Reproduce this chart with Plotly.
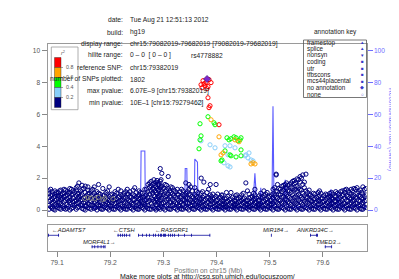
import plotly.graph_objects as go

# ---------------- data ----------------
X_RANGE = [79.082019, 79.682019]

ref_snp_name = "rs4778882"
ref_snp_pos = [79.382019]
ref_snp_logp = [8.217]

red_pos = [79.3744, 79.3801, 79.3782, 79.3707, 79.3895, 79.3857, 79.3763, 79.3838, 79.3726, 79.3820, 79.3838, 79.3876, 79.3857, 79.4045]
red_logp = [8.11, 7.99, 7.80, 7.86, 7.99, 8.18, 7.92, 7.74, 7.67, 7.61, 7.04, 6.54, 6.42, 5.35]

orange_pos = [79.3895, 79.4045, 79.4346, 79.4421, 79.4120, 79.4083, 79.4647, 79.4722, 79.4684]
orange_logp = [5.66, 4.59, 4.40, 4.28, 3.58, 3.46, 2.89, 2.89, 2.96]

green_pos = [79.3688, 79.3838, 79.3951, 79.3970, 79.3707, 79.3688, 79.3669, 79.4195, 79.4271, 79.4365,
             79.4440, 79.4459, 79.4402, 79.4327, 79.4233, 79.4459, 79.4158, 79.4271, 79.4365, 79.4459,
             79.4101, 79.4083, 79.4252]
green_logp = [5.41, 5.85, 5.47, 5.35, 4.65, 4.40, 3.84, 4.53, 4.47, 4.53,
              4.40, 4.53, 4.34, 4.59, 4.40, 3.77, 3.71, 3.40, 3.33, 3.40,
              3.14, 3.08, 3.46]

lblue_pos = [79.3688, 79.3707, 79.3876, 79.4158, 79.4252, 79.4346, 79.4214, 79.4534, 79.4590, 79.4553,
             79.4647, 79.4684, 79.4214, 79.4139, 79.4252, 79.4609, 79.3970]
lblue_logp = [6.73, 4.34, 4.09, 4.03, 4.03, 3.90, 3.46, 3.40, 3.27, 3.46,
              3.14, 3.08, 2.77, 2.96, 2.70, 3.58, 3.90]

gray_pos = [79.152, 79.158, 79.163, 79.171, 79.178, 79.186, 79.190, 79.205]
gray_logp = [0.72, 0.78, 0.75, 0.70, 0.80, 0.66, 0.74, 0.70]

navy_x = [79.085, 79.091, 79.096, 79.102, 79.107, 79.113, 79.119, 79.124, 79.130, 79.136,
          79.141, 79.147, 79.153, 79.158, 79.164, 79.170, 79.175, 79.181, 79.186, 79.192,
          79.198, 79.203, 79.209, 79.215, 79.220, 79.226, 79.232, 79.237, 79.243, 79.249,
          79.254, 79.260, 79.265, 79.271, 79.277, 79.282, 79.286, 79.290, 79.294, 79.297,
          79.303, 79.309, 79.314, 79.320, 79.326, 79.331, 79.337, 79.342, 79.348, 79.354,
          79.359, 79.365, 79.371, 79.376, 79.382, 79.388, 79.393, 79.399, 79.405, 79.410,
          79.416, 79.421, 79.427, 79.433, 79.438, 79.444, 79.450, 79.455, 79.461, 79.467,
          79.472, 79.478, 79.483, 79.489, 79.495, 79.500, 79.506, 79.512, 79.517, 79.523,
          79.529, 79.534, 79.540, 79.546, 79.551, 79.557, 79.562, 79.568, 79.574, 79.579,
          79.585, 79.591, 79.596, 79.602, 79.608, 79.613, 79.619, 79.624, 79.630, 79.636,
          79.641, 79.647, 79.653, 79.658, 79.664, 79.670, 79.675, 79.681]
navy_y = [[0.05, 0.3, 0.55, 0.8, 1.05, 1.2], [0.1, 0.45, 0.7, 0.95, 1.15, 0.2], [0.0, 0.35, 0.6, 0.85, 1.2, 1.0],
          [0.15, 0.5, 0.75, 1.1, 0.3, 0.9], [0.05, 0.4, 0.65, 0.95, 1.25, 0.8], [0.2, 0.55, 0.85, 1.05, 0.1, 1.3],
          [0.1, 0.35, 0.7, 0.95, 1.15], [0.0, 0.45, 0.8, 1.1, 1.35, 0.6], [0.15, 0.5, 0.75, 1.0, 1.2, 0.3],
          [0.05, 0.6, 0.9, 1.25, 1.4, 0.4], [0.2, 0.45, 0.7, 1.05, 1.7, 0.85], [0.1, 0.3, 0.65, 0.95, 1.3, 1.55],
          [0.0, 0.5, 0.8, 1.1, 1.5, 0.25], [0.15, 0.4, 0.7, 1.0, 1.25, 1.45], [0.05, 0.55, 0.9, 0.3, 1.2],
          [0.2, 0.45, 0.75, 1.05, 1.45, 0.1], [0.0, 0.35, 0.6, 0.9, 1.15], [0.1, 0.5, 0.8, 0.3, 1.0],
          [0.05, 0.4, 0.65, 0.9, 1.35], [0.15, 0.55, 0.75, 0.3, 1.1], [0.0, 0.35, 0.6, 0.85, 1.45],
          [0.1, 0.45, 0.7, 0.25, 1.0], [0.05, 0.4, 0.65, 0.9, 1.15], [0.15, 0.5, 0.8, 0.3, 1.3],
          [0.0, 0.35, 0.6, 0.95, 1.2], [0.1, 0.45, 0.75, 0.2, 1.05], [0.05, 0.4, 0.7, 1.0, 1.3],
          [0.15, 0.55, 0.85, 0.3, 1.15], [0.0, 0.35, 0.65, 0.95, 1.25], [0.1, 0.5, 0.8, 1.1, 0.25],
          [0.05, 0.4, 0.7, 0.95, 1.2], [0.15, 0.45, 0.8, 1.05, 0.3], [0.0, 0.35, 0.6, 0.9, 1.3],
          [0.1, 0.5, 0.8, 1.15, 1.6, 0.3], [0.05, 0.4, 0.75, 1.2, 1.5, 1.8], [0.15, 0.55, 0.9, 1.3, 1.65, 1.9],
          [0.0, 0.35, 0.7, 1.1, 1.45, 1.75], [0.1, 0.45, 0.8, 1.25, 1.55, 1.7], [0.05, 0.6, 0.95, 1.4, 1.8, 2.6],
          [0.2, 0.4, 0.75, 1.15, 1.5, 2.3], [0.0, 0.5, 0.85, 1.2, 1.6], [0.1, 0.35, 0.7, 1.0, 1.35, 2.1],
          [0.05, 0.45, 0.8, 1.1, 1.45], [0.15, 0.55, 0.9, 1.25, 0.3], [0.0, 0.4, 0.7, 1.0, 1.3],
          [0.1, 0.5, 0.8, 1.15, 0.25], [0.05, 0.35, 0.65, 0.95, 1.2], [0.15, 0.45, 0.75, 1.05, 1.7],
          [0.0, 0.4, 0.7, 1.0, 1.6, 1.3], [0.1, 0.5, 0.85, 1.2, 0.3], [0.05, 0.35, 0.65, 0.95, 1.4],
          [0.15, 0.45, 0.8, 1.1, 0.3], [0.0, 0.4, 0.7, 1.05, 2.0], [0.1, 0.3, 0.6, 0.9, 1.75],
          [0.05, 0.45, 0.75, 1.1], [0.15, 0.35, 0.65, 0.95, 1.6], [0.0, 0.4, 0.7, 1.0],
          [0.1, 0.3, 0.6, 0.85, 1.6], [0.05, 0.45, 0.75, 0.25], [0.15, 0.35, 0.6, 0.9, 0.95],
          [0.0, 0.4, 0.7, 0.2], [0.1, 0.3, 0.55, 0.85], [0.05, 0.45, 0.7, 1.1],
          [0.15, 0.35, 0.6, 0.25], [0.0, 0.4, 0.75, 0.95], [0.1, 0.3, 0.55, 0.8],
          [0.05, 0.45, 0.7, 1.05], [0.15, 0.35, 0.6, 1.7], [0.0, 0.4, 0.75, 0.2, 1.0],
          [0.1, 0.3, 0.55, 0.85], [0.05, 0.45, 0.7, 0.95, 1.3], [0.15, 0.35, 0.6, 0.25],
          [0.0, 0.4, 0.8, 1.05], [0.1, 0.3, 0.55, 0.9, 1.2], [0.05, 0.45, 0.7, 1.1],
          [0.15, 0.35, 0.6, 0.85], [0.0, 0.4, 0.75, 1.0, 1.3], [0.1, 0.5, 0.8, 1.2, 2.25, 2.2],
          [0.05, 0.35, 0.65, 1.0, 1.35], [0.15, 0.45, 0.8, 1.15, 1.5], [0.0, 0.4, 0.7, 1.05, 1.4, 1.6],
          [0.1, 0.5, 0.85, 1.2, 1.55], [0.05, 0.35, 0.7, 1.1, 1.45, 1.7], [0.15, 0.45, 0.8, 1.25, 1.65, 1.85],
          [0.0, 0.4, 0.75, 1.15, 1.5, 1.95], [0.1, 0.5, 0.9, 1.3, 1.75, 2.1], [0.05, 0.35, 0.7, 1.05, 1.6, 2.2],
          [0.15, 0.45, 0.8, 1.2, 2.25], [0.0, 0.4, 0.65, 0.95, 1.25], [0.1, 0.3, 0.55, 0.85],
          [0.05, 0.45, 0.7, 1.0], [0.15, 0.35, 0.6, 0.85, 1.1], [0.0, 0.4, 0.7, 1.05],
          [0.1, 0.3, 0.55, 0.9], [0.05, 0.45, 0.75, 0.95], [0.15, 0.35, 0.6, 0.85, 1.05],
          [0.0, 0.4, 0.7, 1.0], [0.1, 0.3, 0.55, 0.85, 1.15], [0.05, 0.45, 0.7, 1.0],
          [0.15, 0.35, 0.6, 0.9, 1.2], [0.0, 0.4, 0.75, 1.1, 1.25], [0.1, 0.3, 0.55, 0.85, 1.2],
          [0.05, 0.45, 0.7, 1.0, 1.3], [0.15, 0.35, 0.6, 0.9, 1.35], [0.0, 0.4, 0.75, 1.05, 1.4],
          [0.1, 0.3, 0.55, 0.85, 1.25], [0.05, 0.45, 0.7, 1.0, 1.45], [0.15, 0.35, 0.6, 0.95, 1.35]]

navy_x2 = [79.0880, 79.0935, 79.0990, 79.1045, 79.1100, 79.1160, 79.1215, 79.1270, 79.1330, 79.1385,
           79.1440, 79.1500, 79.1555, 79.1610, 79.1670, 79.1725, 79.1780, 79.1835, 79.1890, 79.1950,
           79.2005, 79.2060, 79.2120, 79.2175, 79.2230, 79.2290, 79.2345, 79.2400, 79.2460, 79.2515,
           79.2570, 79.2625, 79.2680, 79.2740, 79.2795, 79.2840, 79.2880, 79.2920, 79.2955, 79.3000,
           79.3060, 79.3115, 79.3170, 79.3230, 79.3285, 79.3340, 79.3395, 79.3450, 79.3510, 79.3565,
           79.3620, 79.3680, 79.3735, 79.3790, 79.3850, 79.3905, 79.3960, 79.4020, 79.4075, 79.4130,
           79.4185, 79.4240, 79.4300, 79.4355, 79.4410, 79.4470, 79.4525, 79.4580, 79.4640, 79.4695,
           79.4750, 79.4805, 79.4860, 79.4920, 79.4975, 79.5030, 79.5090, 79.5145, 79.5200, 79.5260,
           79.5315, 79.5370, 79.5430, 79.5485, 79.5540, 79.5595, 79.5650, 79.5710, 79.5765, 79.5820,
           79.5880, 79.5935, 79.5990, 79.6050, 79.6105, 79.6160, 79.6215, 79.6270, 79.6330, 79.6385,
           79.6440, 79.6500, 79.6555, 79.6610, 79.6670, 79.6725, 79.6780]
navy_y2 = [[0.2, 0.6, 0.9, 1.3], [0.05, 0.5, 0.8], [0.25, 0.65, 1.1], [0.1, 0.45, 0.85, 1.2],
           [0.3, 0.7, 1.0], [0.05, 0.6, 0.9, 1.25], [0.25, 0.55, 1.05], [0.1, 0.65, 0.95, 1.3],
           [0.3, 0.55, 1.1], [0.15, 0.75, 1.0, 1.5], [0.3, 0.6, 0.9, 1.2], [0.05, 0.45, 0.75, 1.35],
           [0.25, 0.6, 0.9], [0.1, 0.35, 0.8, 1.05], [0.3, 0.65, 0.95, 1.3], [0.15, 0.5, 0.85],
           [0.25, 0.7, 1.05, 1.6], [0.05, 0.45, 0.75], [0.2, 0.6, 0.95], [0.1, 0.45, 0.7, 1.2],
           [0.25, 0.55, 0.95], [0.05, 0.6, 0.8], [0.2, 0.45, 0.7, 1.05], [0.1, 0.55, 0.85],
           [0.25, 0.6, 0.9], [0.05, 0.5, 0.8, 1.15], [0.25, 0.6, 1.0], [0.1, 0.45, 0.8],
           [0.2, 0.65, 0.9, 1.4], [0.05, 0.5, 0.85], [0.25, 0.55, 0.75, 1.1], [0.1, 0.45, 0.8],
           [0.2, 0.65, 0.95, 1.3], [0.05, 0.6, 1.0, 1.45, 1.7], [0.25, 0.65, 1.05, 1.35, 1.6],
           [0.1, 0.5, 0.85, 1.2, 1.55], [0.3, 0.6, 1.0, 1.35, 1.85], [0.15, 0.55, 0.9, 1.3, 1.6],
           [0.25, 0.65, 1.05, 1.45, 1.9], [0.1, 0.45, 0.95, 1.35], [0.25, 0.6, 0.9, 1.25, 1.55],
           [0.05, 0.5, 0.85, 1.2], [0.3, 0.65, 1.0, 1.4], [0.1, 0.45, 0.8, 1.15], [0.25, 0.6, 0.95],
           [0.05, 0.5, 0.85, 1.3], [0.2, 0.6, 0.9], [0.1, 0.45, 0.75, 1.15], [0.25, 0.6, 0.95, 1.45],
           [0.05, 0.5, 0.8], [0.2, 0.55, 0.85, 1.2], [0.1, 0.45, 0.75], [0.25, 0.5, 0.8, 1.15],
           [0.05, 0.35, 0.65], [0.2, 0.5, 0.8, 1.3], [0.1, 0.55, 0.85], [0.25, 0.45, 0.75],
           [0.05, 0.35, 0.65, 1.0], [0.2, 0.5, 0.8], [0.1, 0.3, 0.55], [0.25, 0.5, 0.75, 1.1],
           [0.05, 0.35, 0.65], [0.2, 0.5, 0.8], [0.1, 0.3, 0.55, 0.9], [0.25, 0.5, 0.7],
           [0.05, 0.35, 0.6, 0.95], [0.2, 0.5, 0.75], [0.1, 0.3, 0.6, 1.2], [0.25, 0.5, 0.8],
           [0.05, 0.35, 0.65, 1.05], [0.2, 0.5, 0.75], [0.1, 0.3, 0.6, 0.9], [0.25, 0.5, 0.8],
           [0.05, 0.35, 0.65, 1.0], [0.2, 0.5, 0.8], [0.1, 0.3, 0.6, 0.95], [0.25, 0.55, 0.9, 1.4],
           [0.05, 0.45, 0.75, 1.15, 1.6], [0.2, 0.6, 0.95, 1.3], [0.1, 0.5, 0.85, 1.25, 1.55],
           [0.25, 0.6, 0.95, 1.35, 1.7], [0.05, 0.45, 0.8, 1.2, 1.6], [0.2, 0.55, 0.95, 1.35, 1.8],
           [0.1, 0.5, 0.85, 1.3, 1.7], [0.25, 0.6, 1.0, 1.4, 1.9], [0.05, 0.45, 0.8, 1.25, 2.0],
           [0.2, 0.55, 0.9, 1.4, 1.75], [0.1, 0.5, 0.8, 1.1], [0.25, 0.6, 0.95], [0.05, 0.35, 0.7, 1.05],
           [0.2, 0.5, 0.8], [0.1, 0.55, 0.9, 1.2], [0.25, 0.5, 0.75], [0.05, 0.35, 0.65, 1.0],
           [0.2, 0.5, 0.8], [0.1, 0.45, 0.75, 1.1], [0.25, 0.55, 0.85], [0.05, 0.4, 0.7, 1.05],
           [0.2, 0.5, 0.8, 1.15], [0.1, 0.45, 0.95], [0.25, 0.6, 0.9, 1.3], [0.05, 0.4, 0.75, 1.1],
           [0.2, 0.55, 0.85, 1.2], [0.1, 0.45, 0.8, 1.3], [0.25, 0.6, 0.9, 1.15], [0.05, 0.4, 0.75, 1.1],
           [0.2, 0.55, 0.85, 1.3]]

recomb_pos = [79.0820, 79.0950, 79.1100, 79.1250, 79.1400, 79.1550, 79.1700, 79.1850, 79.2000, 79.2150,
              79.2300, 79.2450, 79.2570, 79.2580, 79.2650, 79.2660, 79.2800, 79.2950, 79.3100, 79.3250,
              79.3400, 79.3410, 79.3440, 79.3450, 79.3520, 79.3580, 79.3590, 79.3640, 79.3650, 79.3800,
              79.3950, 79.4100, 79.4250, 79.4400, 79.4550, 79.4680, 79.4720, 79.4760, 79.4810, 79.4830,
              79.4850, 79.4950, 79.5040, 79.5060, 79.5080, 79.5200, 79.5260, 79.5290, 79.5320, 79.5450,
              79.5600, 79.5750, 79.5900, 79.6050, 79.6130, 79.6150, 79.6170, 79.6260, 79.6280, 79.6300,
              79.6450, 79.6600, 79.6820]
recomb_rate = [2.0, 2.5, 1.8, 2.2, 3.0, 2.0, 1.5, 2.5, 1.8, 2.0,
               1.5, 2.2, 2.5, 37.0, 37.0, 2.0, 1.5, 2.5, 1.8, 2.0,
               2.0, 26.0, 26.0, 2.0, 1.5, 2.0, 32.0, 30.0, 1.5, 1.0,
               1.2, 0.8, 1.0, 1.5, 1.2, 1.5, 23.0, 1.5, 1.0, 14.0,
               1.0, 1.5, 1.5, 65.0, 1.5, 2.0, 2.0, 19.0, 2.0, 1.5,
               2.5, 1.5, 2.0, 1.5, 2.0, 13.0, 2.0, 2.0, 11.0, 2.0,
               1.5, 2.5, 1.5]

gene_names = ["ADAMTS7", "MORF4L1", "CTSH", "RASGRF1", "MIR184", "ANKRD34C", "TMED3"]
gene_start = [79.0515, 79.1651, 79.2134, 79.2523, 79.5021, 79.5757, 79.6035]
gene_end = [79.1039, 79.1905, 79.2374, 79.3878, 79.5023, 79.5905, 79.6166]
gene_strand = ["-", "+", "-", "-", "+", "+", "+"]
gene_row = [1, 0, 1, 1, 1, 1, 0]
gene_label_x = [79.0868, 79.1790, 79.2260, 79.3150, 79.5110, 79.5850, 79.6100]
gene_exons = [
    [79.0830, 79.1020],
    [79.1651, 79.1700, 79.1760, 79.1820, 79.1870, 79.1895],
    [79.2140, 79.2185, 79.2222, 79.2260, 79.2297, 79.2360],
    [79.2523, 79.2598, 79.2673, 79.2729, 79.2805, 79.2842, 79.2898, 79.2936, 79.2955, 79.2992,
     79.3011, 79.3030, 79.3086, 79.3124, 79.3162, 79.3199, 79.3274, 79.3387, 79.3519, 79.3865],
    [79.5021],
    [79.5757, 79.5870, 79.5890],
    [79.6035, 79.6155],
]

x_ticks = [79.1, 79.2, 79.3, 79.4, 79.5, 79.6]
logp_ticks = [0, 2, 4, 6, 8, 10]
recomb_ticks = [0, 20, 40, 60, 80, 100]

info_labels = ["date:", "build:", "display range:", "hilite range:", "reference SNP:",
               "number of SNPs plotted:", "max pvalue:", "min pvalue:"]
info_values = ["Tue Aug 21 12:51:13 2012", "hg19", "chr15:79082019-79682019 [79082019-79682019]",
               "0 \u2013 0  [ 0 \u2013 0 ]", "chr15:79382019", "1802",
               "6.07E\u20139 [chr15:79382019]", "10E\u20131 [chr15:79279462]"]

annot_names = ["framestop", "splice", "nonsyn", "coding", "utr", "tfbscons", "mcs44placental",
               "no annotation", "none"]
annot_symbols = ["\u25B2", "\u25B2", "\u25BC", "\u25A0", "\u25A0", "\u25A0", "\u25A0", "\u25C6", "\u25CB"]

ld_labels = ["0.8", "0.6", "0.4", "0.2"]

# ---------------- style ----------------
W, H = 399, 279
FONT = "Liberation Sans, Arial, sans-serif"
NAVY = "#000080"
LBLUE = "#87CEFA"
GREEN = "#00FF00"
ORANGE = "#FFA500"
RED = "#FF0000"
GRAY = "#7F7F7F"
PURPLE = "#7D26CD"
RC = "#6E6EFF"
FRAME = "#9A9A9A"


def px(x):
    return x / W


def py(y):
    return 1 - y / H


fig = go.Figure()

# recombination line (base y axis, right side)
fig.add_trace(go.Scatter(x=recomb_pos, y=recomb_rate, mode="lines",
                         line=dict(color="rgba(50,50,255,0.8)", width=1.1),
                         xaxis="x", yaxis="y", hoverinfo="skip"))

navy_pos = ([p for p, vals in zip(navy_x, navy_y) for _ in vals]
            + [p for p, vals in zip(navy_x2, navy_y2) for _ in vals])
navy_logp = [v for vals in navy_y for v in vals] + [v for vals in navy_y2 for v in vals]

for xs, ys, col in [(navy_pos, navy_logp, NAVY), (gray_pos, gray_logp, GRAY),
                    (lblue_pos, lblue_logp, LBLUE), (green_pos, green_logp, GREEN),
                    (orange_pos, orange_logp, ORANGE), (red_pos, red_logp, RED)]:
    fig.add_trace(go.Scatter(x=xs, y=ys, mode="markers", xaxis="x", yaxis="y2",
                             marker=dict(symbol="circle-open", size=4.2, color=col, line=dict(width=1))))

fig.add_trace(go.Scatter(x=ref_snp_pos, y=ref_snp_logp, mode="markers", xaxis="x", yaxis="y2",
                         marker=dict(symbol="diamond", size=5.5, color=PURPLE,
                                     line=dict(width=0.6, color="#3a0a6a"))))

# genes
ROW_BODY = {0: 0.45, 1: 1.6}
ROW_LABEL = {0: 0.95, 1: 2.1}
GCOL = "#1010A0"
bx, by, ex, ey = [], [], [], []
for s, e, r, exs in zip(gene_start, gene_end, gene_row, gene_exons):
    bx += [s, e, None]
    by += [ROW_BODY[r], ROW_BODY[r], None]
    for x0 in exs:
        ex += [x0, x0 + 0.0016, None]
        ey += [ROW_BODY[r], ROW_BODY[r], None]
fig.add_trace(go.Scatter(x=bx, y=by, mode="lines", line=dict(color=GCOL, width=0.8),
                         xaxis="x2", yaxis="y3", hoverinfo="skip"))
fig.add_trace(go.Scatter(x=ex, y=ey, mode="lines", line=dict(color=GCOL, width=3),
                         xaxis="x2", yaxis="y3", hoverinfo="skip"))

annotations = []
for i, (name, strand, r, lx) in enumerate(zip(gene_names, gene_strand, gene_row, gene_label_x)):
    label = ("\u2190" + name) if strand == "-" else (name + "\u2192")
    annotations.append(dict(x=lx, y=ROW_LABEL[r], xref="x2", yref="y3", text="<i>" + label + "</i>",
                            showarrow=False, xanchor="left" if i == 0 else "center", yanchor="middle",
                            font=dict(size=5.8, color="#222", family=FONT)))


def txt(x, y, s, anchor="left", size=6.7, color="#222", **kw):
    d = dict(x=px(x), y=py(y), xref="paper", yref="paper", text=s, showarrow=False,
             xanchor=anchor, yanchor="middle", font=dict(size=size, color=color, family=FONT))
    d.update(kw)
    return d


row_y = [12, 24, 35.5, 47, 59, 71, 83, 95]
for lab, val, yy in zip(info_labels, info_values, row_y):
    annotations.append(txt(116.5, yy, lab, anchor="right"))
    annotations.append(txt(119.5, yy, val, anchor="left"))

annotations.append(dict(x=ref_snp_pos[0], y=py(47), xref="x", yref="paper", text=ref_snp_name,
                        showarrow=False, xanchor="center", yanchor="middle",
                        font=dict(size=6.7, color="#222", family=FONT)))

# annotation key
annotations.append(txt(327, 24, "annotation key", anchor="center", size=6.5))
for i, (nm, sym) in enumerate(zip(annot_names, annot_symbols)):
    yy = 34.5 + i * 6.45
    annotations.append(txt(296.5, yy, nm, anchor="left", size=6.3))
    annotations.append(txt(354, yy, sym, anchor="center", size=4.5, color="#3838C8"))

# r2 legend
shapes = [dict(type="rect", xref="paper", yref="paper", x0=px(43.3), x1=px(70), y0=py(101.7), y1=py(39),
               line=dict(color="#999", width=0.8), fillcolor="rgba(0,0,0,0)", layer="above")]
for (y0, y1), col in zip([(49.5, 59.5), (59.5, 69.5), (69.5, 79.5), (79.5, 89.5), (89.5, 99.5)],
                         [RED, ORANGE, GREEN, LBLUE, NAVY]):
    shapes.append(dict(type="rect", xref="paper", yref="paper", x0=px(46.5), x1=px(53), y0=py(y1), y1=py(y0),
                       line=dict(color="#222", width=0.4), fillcolor=col, layer="above"))
for lab, yy in zip(ld_labels, [59.5, 69.5, 79.5, 89.5]):
    shapes.append(dict(type="line", xref="paper", yref="paper", x0=px(53), x1=px(55), y0=py(yy), y1=py(yy),
                       line=dict(color="#666", width=0.6), layer="above"))
    annotations.append(txt(55.5, yy, lab, anchor="left", size=5.3, color="#555"))
annotations.append(txt(55, 44.5, "<i>r</i><sup>2</sup>", anchor="center", size=5.5, color="#555"))

# annotation key box
shapes.append(dict(type="rect", xref="paper", yref="paper", x0=px(295.5), x1=px(358.5), y0=py(89.5), y1=py(32),
                   line=dict(color="#555", width=0.8), fillcolor="rgba(0,0,0,0)", layer="above"))

# axis texts
annotations.append(txt(383, 121, "Recombination rate (cM/Mb)", anchor="center", size=6.6, color=RC,
                       textangle=90))
annotations.append(txt(200, 262.5, "Position on chr15 (Mb)", anchor="center", size=6.8, color="#777"))
annotations.append(txt(199.5, 269, "Make more plots at http://csg.sph.umich.edu/locuszoom/", anchor="center",
                       size=7, color="#111"))

XD = [px(39.5), px(358.6)]
fig.update_layout(
    width=W, height=H, margin=dict(l=0, r=0, t=0, b=0, pad=0),
    paper_bgcolor="white", plot_bgcolor="white", showlegend=False,
    font=dict(family=FONT, size=7, color="#333"),
    xaxis=dict(domain=XD, range=X_RANGE, anchor="y", showticklabels=False, ticks="",
               showgrid=False, zeroline=False, showline=True, mirror=True, linecolor=FRAME, linewidth=1),
    yaxis=dict(domain=[py(208.4), py(36.2)], range=[-4, 104], side="right", anchor="x",
               tickvals=recomb_ticks, ticks="outside", ticklen=5, tickcolor=RC, tickwidth=1,
               tickfont=dict(color=RC, size=6.6, family=FONT),
               showgrid=False, zeroline=False, showline=True, mirror=True, linecolor=FRAME, linewidth=1),
    yaxis2=dict(overlaying="y", side="left", anchor="x", range=[-0.4, 10.4], tickvals=logp_ticks,
                ticks="outside", ticklen=5, tickcolor="#888", tickwidth=1,
                tickfont=dict(color="#555", size=6.6, family=FONT),
                showgrid=False, zeroline=False, showline=False),
    xaxis2=dict(domain=XD, range=X_RANGE, anchor="y3", tickvals=x_ticks,
                ticktext=[f"{t:.1f}" for t in x_ticks], ticks="outside", ticklen=5, tickcolor="#888",
                tickfont=dict(color="#555", size=6.8, family=FONT),
                showgrid=False, zeroline=False, showline=True, mirror=True, linecolor=FRAME, linewidth=1),
    yaxis3=dict(domain=[py(243.3), py(217.3)], range=[0, 2.6], anchor="x2", showticklabels=False,
                ticks="", showgrid=False, zeroline=False, showline=True, mirror=True,
                linecolor=FRAME, linewidth=1),
    annotations=annotations,
    shapes=shapes,
)

fig.write_html("out.html")
